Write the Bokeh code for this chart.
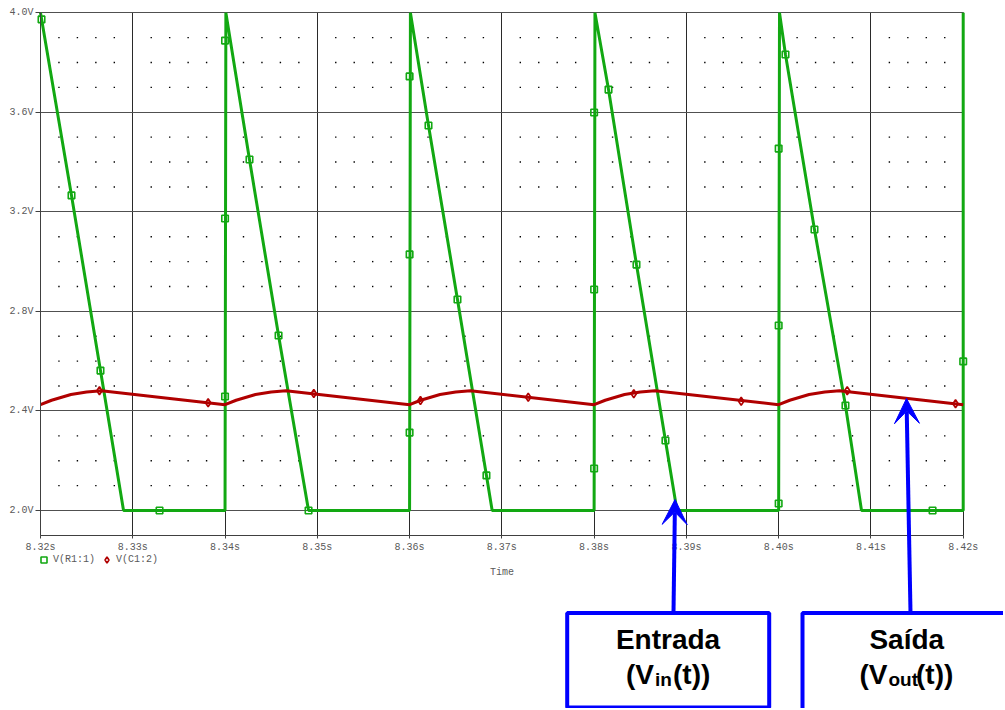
import numpy as np
from bokeh.plotting import figure
from bokeh.models import (FixedTicker, PrintfTickFormatter, Legend, LegendItem, Label,
                          Arrow, VeeHead, BoxAnnotation, Range1d, LinearAxis, Grid)
from bokeh.embed import file_html
from bokeh.resources import INLINE

# ---------------- data ----------------
x_ticks = [8.32, 8.33, 8.34, 8.35, 8.36, 8.37, 8.38, 8.39, 8.40, 8.41, 8.42]
y_ticks = [2.0, 2.4, 2.8, 3.2, 3.6, 4.0]

# V(R1:1) trace
vin_t = [8.32000, 8.32336, 8.32650, 8.32900,
         8.34000, 8.34009, 8.34265, 8.34580, 8.34905,
         8.36000, 8.36009, 8.36205, 8.36519, 8.36833, 8.36895,
         8.38000, 8.38009, 8.38156, 8.38459, 8.38773, 8.38898,
         8.40000, 8.40009, 8.40074, 8.40388, 8.40724, 8.40898,
         8.42000, 8.42000]
vin_v = [4.000, 3.266, 2.562, 2.000,
         2.000, 4.000, 3.410, 2.703, 2.000,
         2.000, 4.000, 3.547, 2.848, 2.141, 2.000,
         2.000, 4.000, 3.691, 2.988, 2.281, 2.000,
         2.000, 4.000, 3.832, 3.129, 2.422, 2.000,
         2.000, 4.000]
# V(R1:1) marker points
vin_mt = [8.32011, 8.32336, 8.32650, 8.33290,
          8.34000, 8.34000, 8.34000, 8.34265, 8.34580, 8.34905,
          8.36000, 8.36000, 8.36000, 8.36205, 8.36519, 8.36833,
          8.38000, 8.38000, 8.38000, 8.38156, 8.38459, 8.38773,
          8.40000, 8.40000, 8.40000, 8.40074, 8.40388, 8.40724,
          8.41668, 8.42000]
vin_mv = [3.973, 3.266, 2.562, 2.000,
          2.458, 3.173, 3.888, 3.410, 2.703, 2.000,
          2.313, 3.029, 3.744, 3.547, 2.848, 2.141,
          2.169, 2.888, 3.599, 3.691, 2.988, 2.281,
          2.028, 2.743, 3.454, 3.832, 3.129, 2.422,
          2.000, 2.599]

# V(C1:2) trace
vout_t = [8.3200, 8.3212, 8.3233, 8.3250, 8.3266,
          8.3400, 8.3412, 8.3433, 8.3450, 8.3466,
          8.3600, 8.3612, 8.3633, 8.3650, 8.3666,
          8.3800, 8.3812, 8.3833, 8.3850, 8.3866,
          8.4000, 8.4012, 8.4033, 8.4050, 8.4066,
          8.4200]
vout_v = [2.425, 2.443, 2.466, 2.476, 2.481,
          2.425, 2.443, 2.466, 2.476, 2.481,
          2.425, 2.443, 2.466, 2.476, 2.481,
          2.425, 2.443, 2.466, 2.476, 2.481,
          2.425, 2.443, 2.466, 2.476, 2.481,
          2.425]
# V(C1:2) marker points
vout_mt = [8.32639, 8.33817, 8.34962, 8.36118, 8.37286, 8.38430, 8.39594, 8.40743, 8.41917]
vout_mv = [2.481, 2.433, 2.470, 2.442, 2.455, 2.469, 2.439, 2.481, 2.429]

series_names = ["V(R1:1)", "V(C1:2)"]
callout_texts = ["Entrada", "Saída"]

# ---------------- styling ----------------
GREEN = "#12a812"
RED = "#b00000"
BLUE = "#0000ff"
TICK_COLOR = "#5a5a5a"
MONO = "Liberation Mono"

T0, T1 = 8.32, 8.42      # plotted time window
V0, V1 = 1.9, 4.0        # plotted voltage window
W, H = 1003, 708

# page-pixel -> data mapping (the frame covers the whole canvas so the call-outs
# below the chart are not clipped)
def sx(px):
    return T0 + (px - 40.0) / 9227.0

def sy(py):
    return 2.0 + (510.0 - py) / 248.9

p = figure(width=W, height=H, x_range=Range1d(sx(0), sx(W)), y_range=Range1d(sy(H), sy(0)),
           output_backend="svg", toolbar_location=None, title=None,
           x_axis_type=None, y_axis_type=None, min_border=0)
p.background_fill_color = "white"
p.border_fill_color = "white"
p.outline_line_color = None

xticker = FixedTicker(ticks=x_ticks)
yticker = FixedTicker(ticks=y_ticks)

xaxis = LinearAxis(fixed_location=V0, bounds=(T0, T1), ticker=xticker,
                   formatter=PrintfTickFormatter(format="%.2fs"))
yaxis = LinearAxis(fixed_location=T0, bounds=(V0, V1), ticker=yticker,
                   formatter=PrintfTickFormatter(format="%.1fV"))
for ax in (xaxis, yaxis):
    ax.axis_line_color = "#404040"
    ax.major_tick_line_color = "#404040"
    ax.major_tick_in = 0
    ax.minor_tick_line_color = None
    ax.major_label_text_font = MONO
    ax.major_label_text_font_size = "10px"
    ax.major_label_text_color = TICK_COLOR
xaxis.major_tick_out = 3
xaxis.major_label_standoff = 4
yaxis.major_tick_out = 5
yaxis.major_label_standoff = 2
xaxis.axis_label = "Time"
xaxis.axis_label_text_font = MONO
xaxis.axis_label_text_font_size = "10px"
xaxis.axis_label_text_font_style = "normal"
xaxis.axis_label_text_color = TICK_COLOR
xaxis.axis_label_standoff = 10
p.add_layout(xaxis, "below")
p.add_layout(yaxis, "left")

xgrid = Grid(dimension=0, ticker=xticker, bounds=(T0 - 0.005, T1 + 0.005),
             grid_line_color="#2a2a2a", grid_line_width=1)
ygrid = Grid(dimension=1, ticker=yticker, bounds=(V0 - 0.1, V1 + 0.1),
             grid_line_color="#505050", grid_line_width=1.2)
if "cross_bounds" in Grid.properties():
    xgrid.cross_bounds = (V0, V1)
    ygrid.cross_bounds = (T0, T1)
    p.add_layout(xgrid)
    p.add_layout(ygrid)
else:
    p.segment(x0=x_ticks, y0=[V0] * len(x_ticks), x1=x_ticks, y1=[V1] * len(x_ticks),
              line_color="#2a2a2a", line_width=1)
    p.segment(x0=[T0] * len(y_ticks), y0=y_ticks, x1=[T1] * len(y_ticks), y1=y_ticks,
              line_color="#505050", line_width=1.2)

# dotted minor grid (intersections of 0.002 s x 0.1 V, not on major lines)
mx = np.round(np.arange(T0, T1 + 1e-9, 0.002), 4)
mx = [v for v in mx if abs(round(v * 100) - v * 100) > 1e-6]
my = np.round(np.arange(2.1, 3.95, 0.1), 2)
my = [v for v in my if abs(round(v / 0.4) - v / 0.4) > 1e-6]
gx, gy = np.meshgrid(mx, my)
p.scatter(gx.ravel(), gy.ravel(), marker="square", size=1.4, color="black", line_color=None)

# traces
p.line(vin_t, vin_v, line_color=GREEN, line_width=3)
gm = p.scatter(vin_mt, vin_mv, marker="square", size=6.5, fill_color=None,
               line_color=GREEN, line_width=1.6)
p.line(vout_t, vout_v, line_color=RED, line_width=3)
rm = p.scatter(vout_mt, vout_mv, marker="diamond", size=8, fill_color=None,
               line_color=RED, line_width=1.6)

legend = Legend(items=[LegendItem(label=series_names[0], renderers=[gm]),
                       LegendItem(label=series_names[1], renderers=[rm])],
                location=(36, H - 566.5), orientation="horizontal", padding=0, margin=0,
                spacing=4, glyph_width=15, glyph_height=15, label_height=15,
                label_standoff=2, label_text_font=MONO, label_text_font_size="10px",
                label_text_color=TICK_COLOR, background_fill_alpha=0, border_line_alpha=0)
p.add_layout(legend)

# ---------------- call-outs ----------------
p.add_layout(Arrow(end=VeeHead(size=25, fill_color=BLUE, line_color=BLUE),
                   x_start=sx(673), y_start=sy(612), x_end=sx(674.5), y_end=sy(499),
                   line_color=BLUE, line_width=4))
p.add_layout(Arrow(end=VeeHead(size=25, fill_color=BLUE, line_color=BLUE),
                   x_start=sx(910), y_start=sy(612), x_end=sx(906), y_end=sy(398),
                   line_color=BLUE, line_width=4))

p.add_layout(BoxAnnotation(left=sx(566.7), right=sx(768.7), top=sy(612.5), bottom=sy(707),
                           fill_alpha=0, line_color=BLUE, line_alpha=1.0, line_width=4))
p.add_layout(BoxAnnotation(left=sx(802), right=sx(1040), top=sy(612.5), bottom=sy(760),
                           fill_alpha=0, line_color=BLUE, line_alpha=1.0, line_width=4))

def lab(x, y, text, size, align="left"):
    p.add_layout(Label(x=x, y=y, text=text, text_font="Liberation Sans",
                       text_font_style="bold", text_font_size=size, text_color="black",
                       text_align=align, text_baseline="alphabetic"))

lab(sx(667.5), sy(639.0), callout_texts[0], "28px", "center")
lab(sx(653.5), sy(674.0), "(V", "28px", "right")
lab(sx(654.5), sy(678.5), "in", "19px")
lab(sx(672.5), sy(674.0), "(t))", "28px")

lab(sx(906.3), sy(639.0), callout_texts[1], "28px", "center")
lab(sx(887.0), sy(674.0), "(V", "28px", "right")
lab(sx(888.0), sy(678.5), "out", "19px")
lab(sx(915.5), sy(674.0), "(t))", "28px")

open("out.html", "w").write(file_html(p, INLINE))
